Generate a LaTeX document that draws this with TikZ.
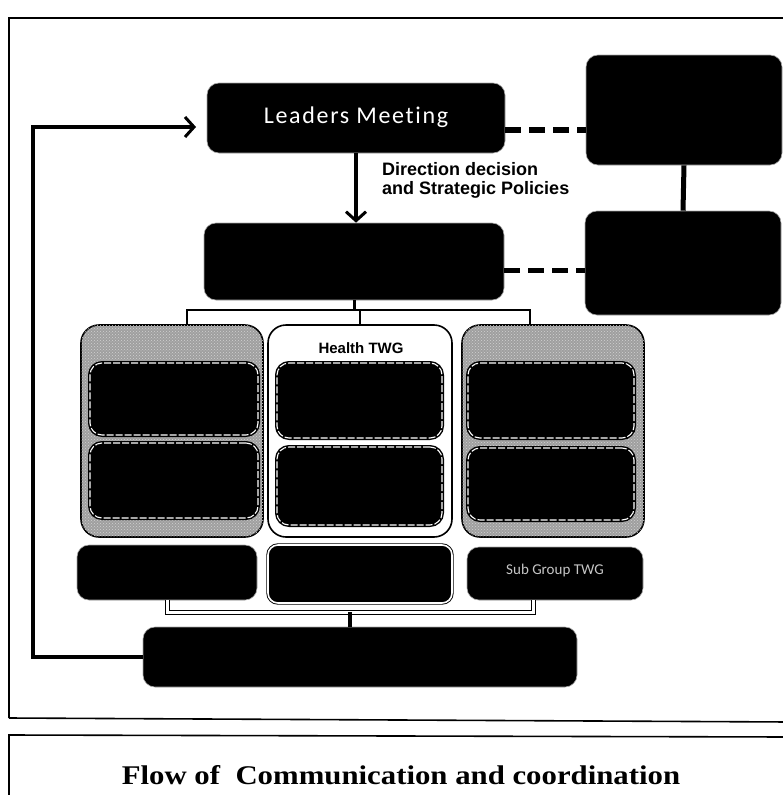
\documentclass[tikz,border=0pt]{standalone}
\usepackage{fontspec}
\setmainfont{Liberation Serif}
\newfontfamily\calib{Carlito}
\newfontfamily\calibspaced[LetterSpace=7,Ligatures=NoCommon]{Carlito}
\newfontfamily\arialf{Liberation Sans}
\usetikzlibrary{arrows.meta,patterns}
\begin{document}
\begin{tikzpicture}[x=1pt,y=-1pt,
  blackbox/.style={fill=black, draw=gray!70, line width=0.6pt, rounded corners=12pt, inner sep=0pt},
  grpbox/.style={fill=gray!75, draw=black, line width=1.6pt, rounded corners=18pt, inner sep=0pt,
    postaction={pattern=crosshatch dots, pattern color=white!65!gray}},
  whitegrp/.style={fill=white, draw=black, line width=1.6pt, rounded corners=18pt, inner sep=0pt},
  inbox/.style={fill=black, draw=white, dash pattern=on 7pt off 2pt, line width=1.1pt, rounded corners=12pt, inner sep=0pt,
    preaction={draw=black, line width=4pt, solid}},
  dblbox/.style={fill=black, draw=black, double=white, double distance=1.6pt, line width=0.9pt, rounded corners=10pt, inner sep=0pt},
  thickarrow/.style={line width=3.5pt, -{Straight Barb[length=9pt,width=20pt,line width=3pt]}},
  dashlink/.style={line width=5.5pt, dash pattern=on 16pt off 8pt},
  solidlink/.style={line width=5pt},
  treelink/.style={line width=2.2pt},
  dbltree/.style={draw=black, line width=1pt, double=white, double distance=3pt}
]
\useasboundingbox (0,0) rectangle (783,795);
% frames
\draw[line width=1.6pt] (9,718) -- (9,18) -- (790,18);
\draw[line width=1.6pt] (9,718) -- (790,722);
\draw[line width=1.6pt] (9,800) -- (9,735) -- (790,737);
\node[font=\bfseries\fontsize{27}{30}\selectfont, xscale=1.14, inner sep=0pt] (title) at (401,775) {Flow of\ \ Communication and coordination};

% top level
\node[blackbox, minimum width=298pt, minimum height=70pt, font=\calibspaced\fontsize{24}{28}\selectfont, text=white] (lead) at (356,118) {\raisebox{5pt}{Leaders Meeting}};
\node[blackbox, minimum width=196pt, minimum height=110pt] (topR) at (684,110) {};
\node[blackbox, minimum width=300pt, minimum height=77pt] (ctr) at (354,261.5) {};
\node[blackbox, minimum width=196pt, minimum height=104pt] (botR) at (683,263) {};
\node[font=\arialf\bfseries\fontsize{18}{19.5}\selectfont, align=left, anchor=north west, inner sep=0pt] (dlabel) at (382,162) {Direction decision\\and Strategic Policies};

% groups
\node[grpbox, minimum width=182pt, minimum height=212pt] (grpL) at (172,431) {};
\node[whitegrp, minimum width=184pt, minimum height=212pt] (grpM) at (360,431) {};
\node[grpbox, minimum width=182pt, minimum height=212pt] (grpR) at (553,431) {};
\node[font=\arialf\bfseries\fontsize{15}{17}\selectfont, inner sep=0pt] (htwg) at (361,348) {Health TWG};

\node[inbox, minimum width=168pt, minimum height=72pt] (L1) at (174,399) {};
\node[inbox, minimum width=168pt, minimum height=75pt] (L2) at (174,480.5) {};
\node[inbox, minimum width=165pt, minimum height=75pt] (M1) at (359.5,400.5) {};
\node[inbox, minimum width=165pt, minimum height=78pt] (M2) at (359.5,486) {};
\node[inbox, minimum width=166pt, minimum height=75pt] (R1) at (551,400.5) {};
\node[inbox, minimum width=166pt, minimum height=72pt] (R2) at (551,484) {};

% bottom row
\node[blackbox, minimum width=180pt, minimum height=55pt] (bL) at (167,572.5) {};
\node[dblbox, minimum width=184pt, minimum height=58pt] (bM) at (360,574) {};
\node[blackbox, minimum width=176pt, minimum height=53pt, text=gray!45, font=\calib\fontsize{15}{17}\selectfont] (bR) at (555,573.5) {\raisebox{8pt}{Sub Group TWG}};
\node[blackbox, minimum width=434pt, minimum height=60pt] (bB) at (360,657) {};

% connectors
\draw[thickarrow] (lead.south) -- (lead.south |- ctr.north);
\draw[dashlink] ([yshift=-12pt]lead.east) -- ([yshift=-12pt]lead.east -| topR.west);
\draw[dashlink] ([yshift=-9pt]ctr.east) -- ([yshift=-9pt]ctr.east -| botR.west);
\draw[solidlink] (topR.south) -- (botR.north);

\coordinate (tj) at (354,310);
\draw[line width=3pt] (ctr.south) -- (tj);
\draw[treelink] ([xshift=15pt]grpL.north) |- (tj) -| ([xshift=-23pt]grpR.north);
\draw[treelink] (tj) -- (tj -| grpM.north) -- (grpM.north);

\coordinate (bj) at (350,612);
\draw[dbltree] (bL.south) |- (bj) -| ([xshift=-22pt]bR.south);
\draw[line width=4pt] (bj) -- (bj |- bB.north);

\coordinate (fbend) at (196,127);
\draw[thickarrow, line width=4pt] (bB.west) -| (33,127) -- (fbend);
\end{tikzpicture}
\end{document}
